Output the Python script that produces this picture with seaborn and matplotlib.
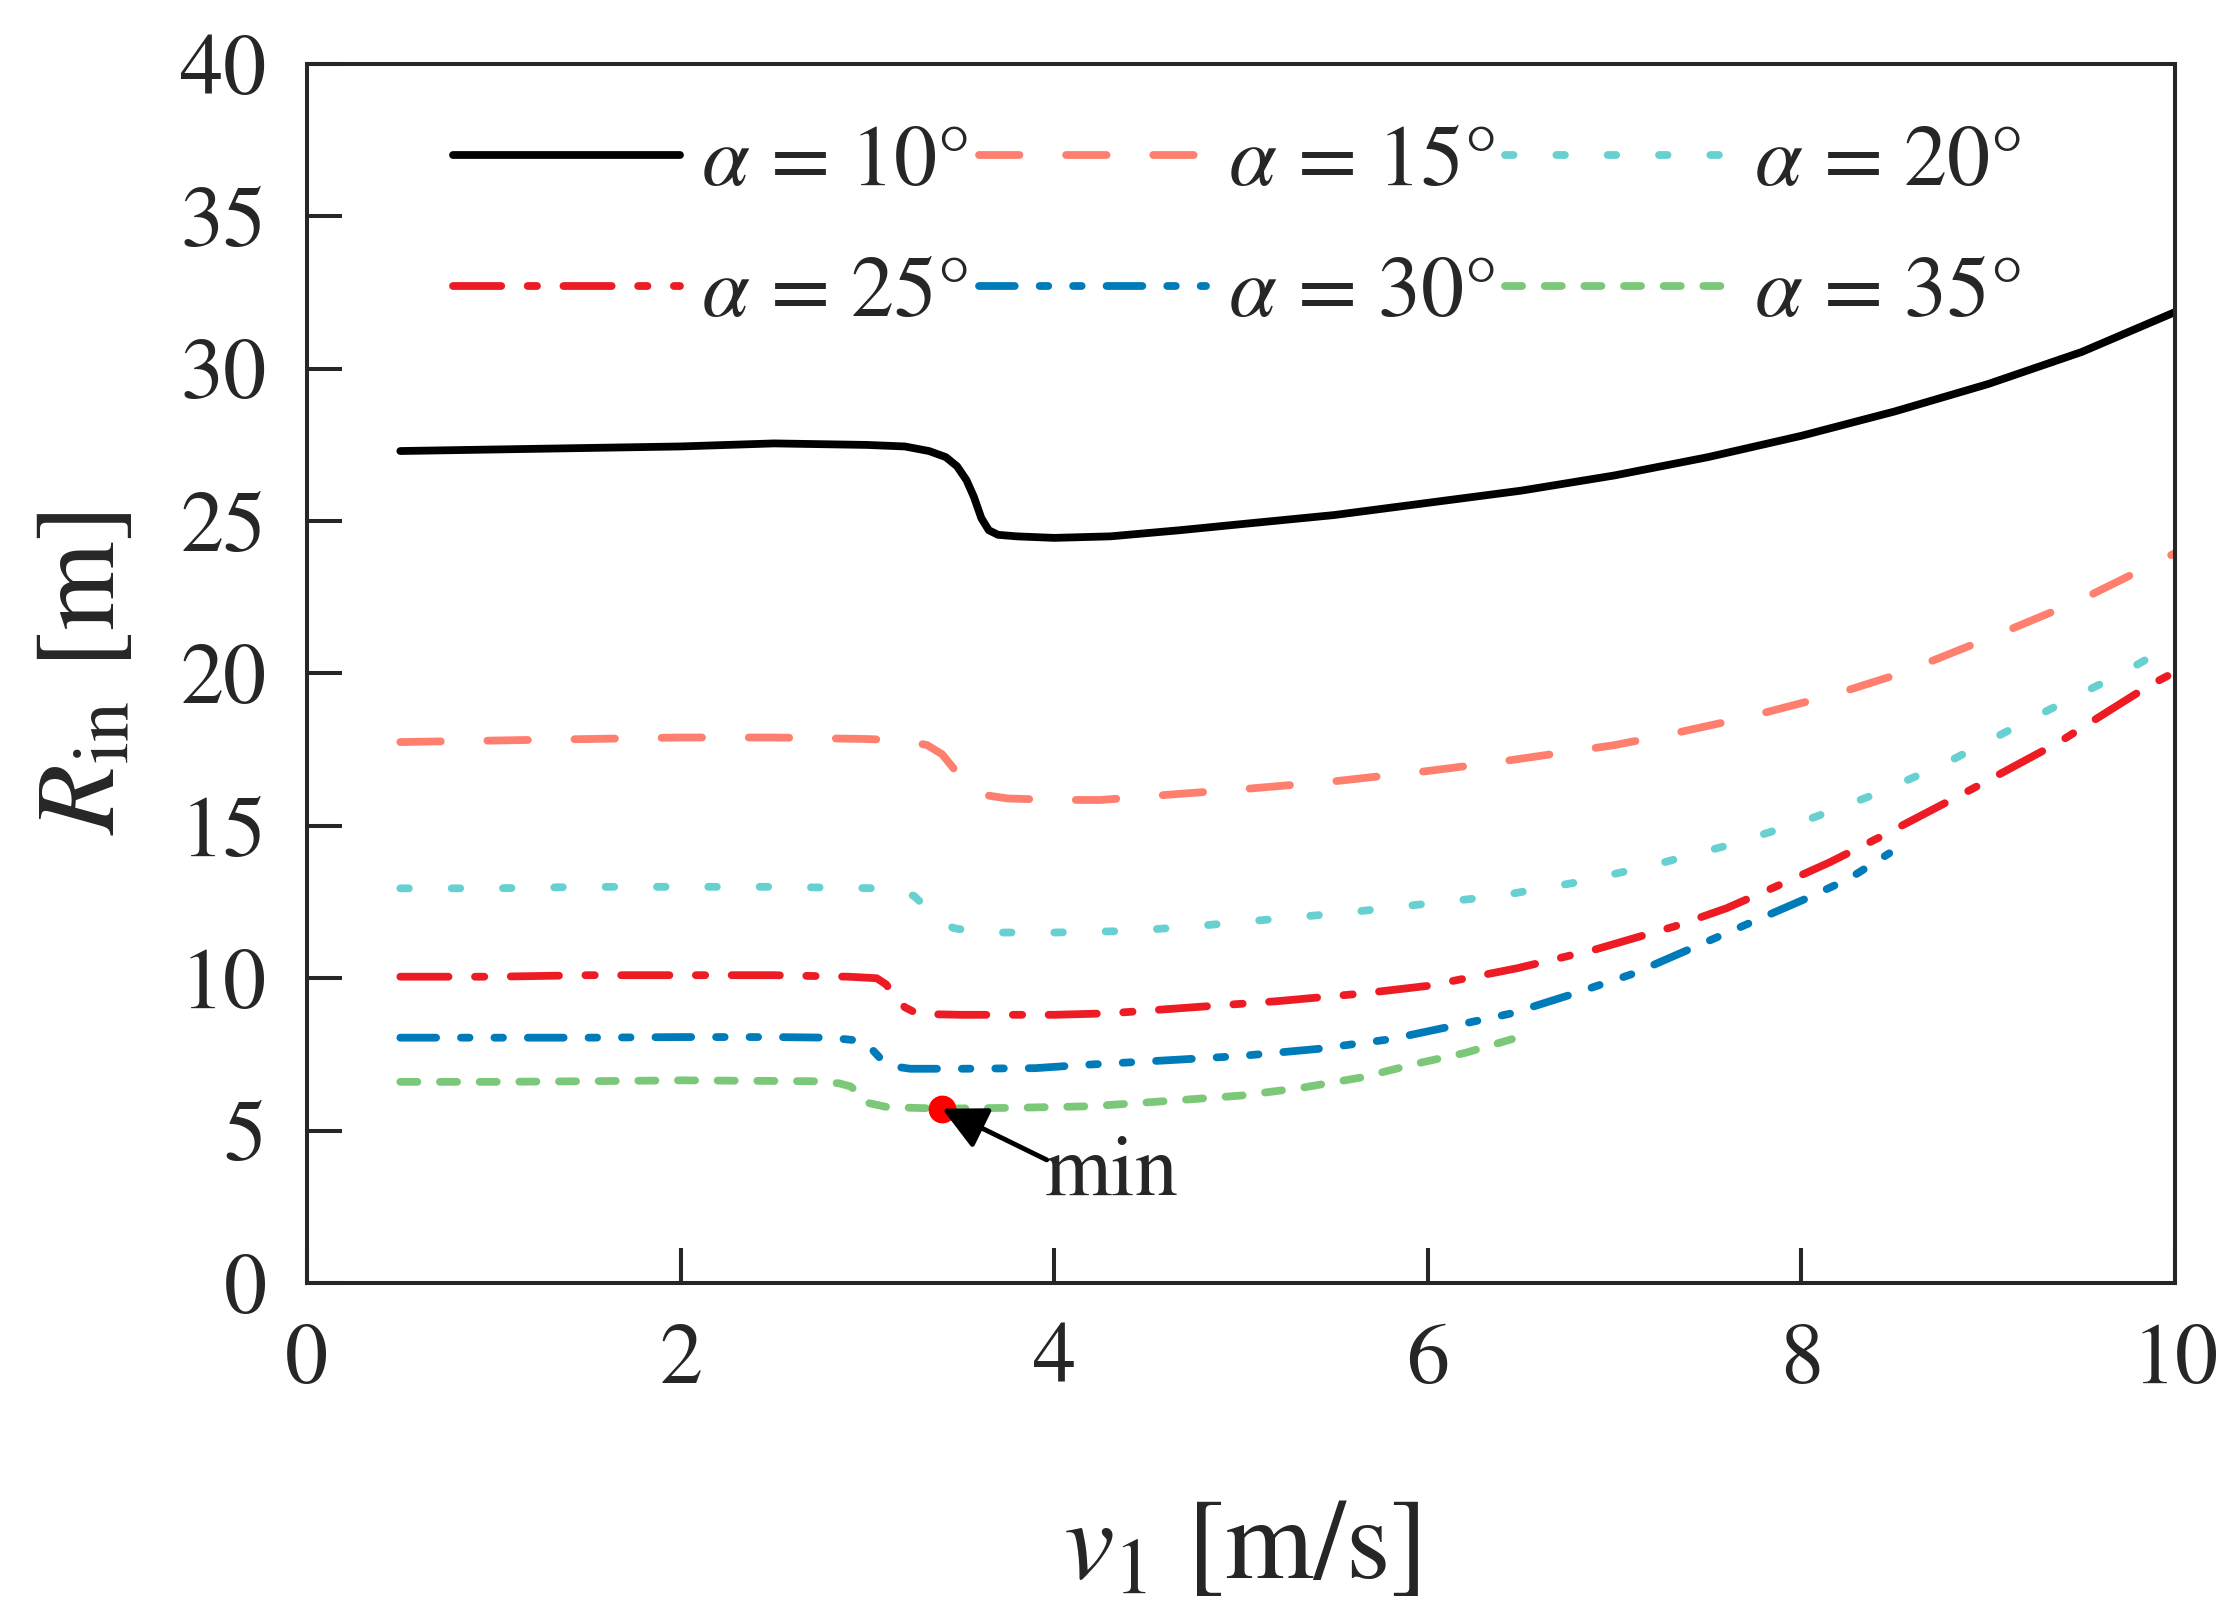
import pandas as pd
import seaborn as sns
import matplotlib.pyplot as plt

# valores
labels = [r'$\alpha$ = 10°', r'$\alpha$ = 15°', r'$\alpha$ = 20°',
          r'$\alpha$ = 25°', r'$\alpha$ = 30°', r'$\alpha$ = 35°']

x_10 = [0.5, 1.0, 1.5, 2.0, 2.5, 3.0, 3.2, 3.33, 3.42, 3.48, 3.53, 3.57, 3.61, 3.65, 3.7,
        3.8, 4.0, 4.3, 4.67, 5.0, 5.5, 6.0, 6.5, 7.0, 7.5, 8.0, 8.5, 9.0, 9.5, 10.0]
y_10 = [27.3, 27.35, 27.4, 27.45, 27.55, 27.5, 27.45, 27.3, 27.1, 26.8, 26.35, 25.8, 25.1, 24.7, 24.55,
        24.5, 24.45, 24.5, 24.7, 24.9, 25.2, 25.6, 26.0, 26.5, 27.1, 27.8, 28.6, 29.5, 30.55, 31.86]

x_15 = [0.5, 1.0, 1.5, 2.0, 2.5, 3.0, 3.2, 3.32, 3.4, 3.46, 3.51, 3.58, 3.64, 3.75, 4.0,
        4.25, 4.67, 5.0, 5.48, 6.0, 6.38, 7.0, 7.29, 7.7, 8.17, 8.53, 9.04, 9.49, 10.0]
y_15 = [17.75, 17.8, 17.85, 17.9, 17.9, 17.85, 17.8, 17.65, 17.35, 16.9, 16.4, 16.15, 16.0, 15.9, 15.85,
        15.85, 16.05, 16.2, 16.45, 16.8, 17.1, 17.65, 18.0, 18.55, 19.3, 20.0, 21.25, 22.4, 23.95]

x_20 = [0.5, 1.0, 1.5, 2.0, 2.5, 3.07, 3.18, 3.25, 3.31, 3.38, 3.46, 3.55, 3.64, 4.0, 4.4,
        4.74, 5.1, 5.56, 6.0, 6.38, 6.8, 7.2, 7.6, 7.99, 8.4, 8.77, 9.1, 9.45, 9.7, 10.0]
y_20 = [12.95, 12.95, 13.0, 13.0, 13.0, 12.95, 12.85, 12.7, 12.35, 11.9, 11.65, 11.55, 11.5, 11.5, 11.55,
        11.7, 11.9, 12.15, 12.45, 12.7, 13.15, 13.7, 14.35, 15.1, 16.05, 17.05, 18.1, 19.2, 19.95, 21.0]

x_25 = [0.5, 1.0, 1.5, 2.0, 2.5, 2.9, 3.05, 3.1, 3.15, 3.2, 3.27, 3.5, 4.0, 4.3, 4.75,
        5.2, 5.65, 6.0, 6.48, 6.9, 7.32, 7.6, 7.86, 8.15, 8.41, 8.91, 9.38, 9.86, 10.0]
y_25 = [10.05, 10.05, 10.1, 10.1, 10.1, 10.05, 10.0, 9.8, 9.4, 9.05, 8.83, 8.8, 8.8, 8.85, 9.05,
        9.25, 9.5, 9.75, 10.33, 10.95, 11.7, 12.3, 13.0, 13.8, 14.6, 16.2, 17.75, 19.6, 20.05]

x_30 = [0.5, 1.0, 1.5, 2.0, 2.5, 2.8, 2.96, 3.02, 3.08, 3.15, 3.23, 3.5, 3.9, 4.14,
        4.67, 5.0, 5.41, 5.8, 6.11, 6.45, 6.76, 7.1, 7.4, 7.7, 8.02, 8.25, 8.47]
y_30 = [8.05, 8.05, 8.05, 8.07, 8.07, 8.05, 7.95, 7.7, 7.3, 7.1, 7.03, 7.03, 7.05, 7.15,
        7.33, 7.45, 7.68, 8.0, 8.4, 8.85, 9.45, 10.15, 10.95, 11.75, 12.6, 13.25, 14.1]

x_35 = [0.5, 1.0, 1.5, 2.0, 2.5, 2.72, 2.85, 2.91, 2.96, 3.01, 3.1, 3.23, 3.4, 3.8, 4.2,
        4.67, 5.0, 5.32, 5.65, 5.94, 6.2, 6.45]
y_35 = [6.6, 6.6, 6.62, 6.65, 6.63, 6.62, 6.55, 6.45, 6.2, 5.9, 5.78, 5.75, 5.72, 5.75, 5.8,
        6.0, 6.15, 6.4, 6.75, 7.2, 7.55, 8.0]

min_x = [3.40]
min_y = [5.72]

xs = [x_10, x_15, x_20, x_25, x_30, x_35]
ys = [y_10, y_15, y_20, y_25, y_30, y_35]

frames = []
for lab, x, y in zip(labels, xs, ys):
    frames.append(pd.DataFrame({'v1': x, 'R_in': y, 'alpha': lab}))
data = pd.concat(frames, ignore_index=True)

cores = dict(zip(labels, ['#000000', '#FF7F6E', '#66D1D0', '#ED1C24', '#007BBA', '#7CC879']))
tracos = dict(zip(labels, ['', (5.2, 6.0), (1.1, 5.5), (6.2, 3.4, 1.2, 3.4),
                           (4.6, 3.2, 1.1, 3.2, 1.1, 3.2), (2.2, 2.9)]))

sns.set_style('ticks')
plt.rcParams['font.family'] = ['STIXGeneral', 'DejaVu Serif']
plt.rcParams['mathtext.fontset'] = 'stix'
plt.rcParams['axes.linewidth'] = 2.9

fig, ax = plt.subplots(figsize=(22.32, 16.12), dpi=100)
fig.subplots_adjust(left=0.1375, right=0.9745, bottom=0.2041, top=0.9603)

sns.lineplot(data=data, x='v1', y='R_in', hue='alpha', style='alpha',
             hue_order=labels, style_order=labels, palette=cores, dashes=tracos,
             linewidth=5.6, dash_capstyle='round', solid_capstyle='round',
             legend=False, ax=ax)

# ponto de minimo
ax.plot(min_x, min_y, 'o', color='#FF0000', markersize=19, zorder=5)
ax.annotate('', xy=(min_x[0], min_y[0]), xytext=(3.96, 4.04),
            arrowprops=dict(arrowstyle='-|>,head_length=0.9,head_width=0.45',
                            mutation_scale=30, color='black', lw=3.5,
                            shrinkA=0, shrinkB=0), zorder=6)
ax.text(3.95, 2.89, 'min', fontsize=62, va='baseline', ha='left')

ax.set_xlim(0, 10)
ax.set_ylim(0, 40)
ax.set_xticks([0, 2, 4, 6, 8, 10])
ax.set_yticks([0, 5, 10, 15, 20, 25, 30, 35, 40])
ax.tick_params(direction='in', length=25, width=2.9, labelsize=62, pad=29,
               top=False, right=False)
ax.set_xlabel(r'$v_1$ [m/s]', fontsize=82, labelpad=70)
ax.set_ylabel(r'$R_{\rm in}$ [m]', fontsize=82, labelpad=30)

# legenda em 3 colunas, ordem por linhas
linhas = ax.lines[:6]
ordem = [0, 3, 1, 4, 2, 5]
ax.legend([linhas[i] for i in ordem], [labels[i] for i in ordem], ncol=3,
          loc='upper left', bbox_to_anchor=(0.078, 0.950), frameon=False,
          fontsize=62, handlelength=2.64, handletextpad=0.25, columnspacing=0.12,
          labelspacing=0.6, borderpad=0, borderaxespad=0)

plt.savefig('out.png', dpi=100)
